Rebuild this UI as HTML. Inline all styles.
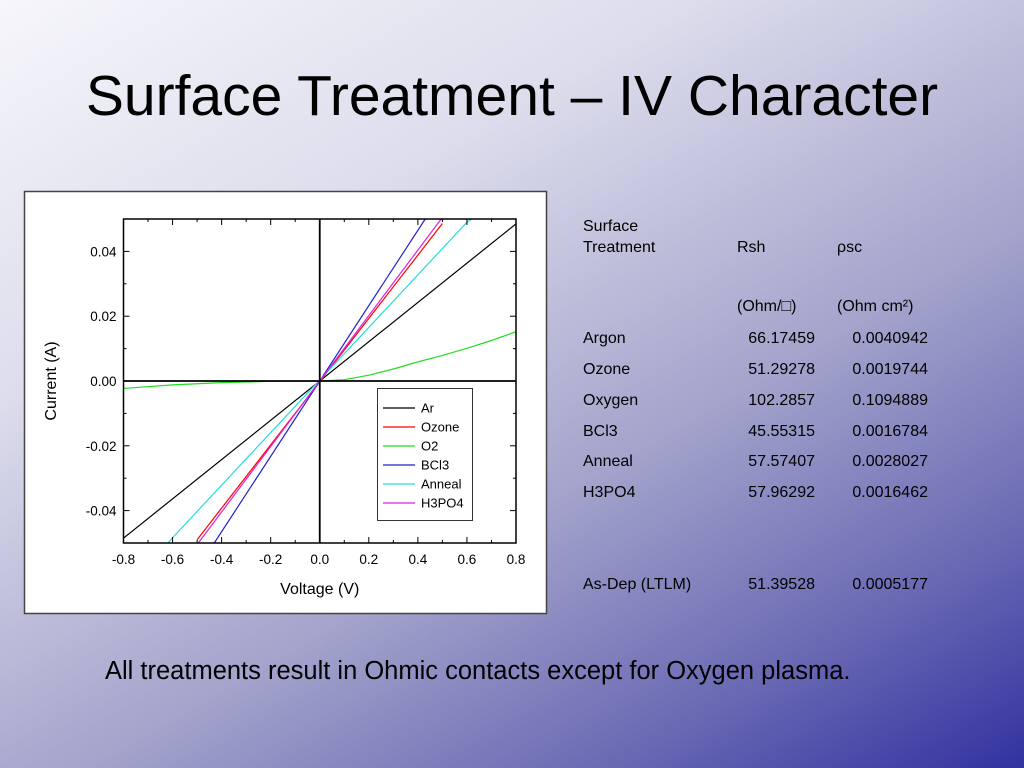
<!DOCTYPE html>
<html><head><meta charset="utf-8">
<style>
body{margin:0;width:1024px;height:768px;overflow:hidden;font-family:"Liberation Sans",sans-serif;
background:linear-gradient(150deg,#f6f6fb 0%,#dcdcec 30%,#a4a4cc 60%,#6a6ab4 82%,#3232a0 100%);position:relative}
.t{position:absolute;font-size:16px;color:#000;white-space:nowrap;line-height:1}
.r{text-align:right;width:120px}
</style></head><body>
<div style="position:absolute;left:0;width:1024px;top:68px;text-align:center;font-size:57px;line-height:1">Surface Treatment – IV Character</div>
<svg style="position:absolute;left:0;top:0" width="1024" height="768">
<rect x="24.5" y="191.5" width="522" height="422" fill="#fff" stroke="#444" stroke-width="1.5"/>
<g id="plot"></g>
</svg>
<div>
<div class="t" style="left:583px;top:219px">Surface</div>
<div class="t" style="left:583px;top:240px">Treatment</div>
<div class="t" style="left:737px;top:240px">Rsh</div>
<div class="t" style="left:837px;top:240px">ρsc</div>
<div class="t" style="left:737px;top:299px">(Ohm/□)</div>
<div class="t" style="left:837px;top:299px">(Ohm cm²)</div>
<div class="t" style="left:583px;top:331px">Argon</div><div class="t r" style="left:695px;top:331px">66.17459</div><div class="t r" style="left:808px;top:331px">0.0040942</div>
<div class="t" style="left:583px;top:362px">Ozone</div><div class="t r" style="left:695px;top:362px">51.29278</div><div class="t r" style="left:808px;top:362px">0.0019744</div>
<div class="t" style="left:583px;top:393px">Oxygen</div><div class="t r" style="left:695px;top:393px">102.2857</div><div class="t r" style="left:808px;top:393px">0.1094889</div>
<div class="t" style="left:583px;top:424px">BCl3</div><div class="t r" style="left:695px;top:424px">45.55315</div><div class="t r" style="left:808px;top:424px">0.0016784</div>
<div class="t" style="left:583px;top:454px">Anneal</div><div class="t r" style="left:695px;top:454px">57.57407</div><div class="t r" style="left:808px;top:454px">0.0028027</div>
<div class="t" style="left:583px;top:485px">H3PO4</div><div class="t r" style="left:695px;top:485px">57.96292</div><div class="t r" style="left:808px;top:485px">0.0016462</div>
<div class="t" style="left:583px;top:577px">As-Dep (LTLM)</div><div class="t r" style="left:695px;top:577px">51.39528</div><div class="t r" style="left:808px;top:577px">0.0005177</div>
</div>
<div style="position:absolute;left:105px;top:659px;font-size:25.5px;line-height:1;white-space:nowrap">All treatments result in Ohmic contacts except for Oxygen plasma.</div>
<script>
const seriesNames=["Ar","Ozone","O2","BCl3","Anneal","H3PO4"];
const seriesColors=["#000","#f00","#2d2","#22c","#2dd","#d2d"];
const arV=[-0.8,0.8], arI=[-0.0485,0.0485];
const ozoneV=[-0.5,0.5], ozoneI=[-0.049,0.0486];
const o2V=[-0.8,-0.6,-0.4,-0.2,0,0.1,0.2,0.3,0.4,0.5,0.6,0.7,0.8];
const o2I=[-0.0023,-0.0012,-0.0005,-0.0001,0,0.0004,0.0018,0.0037,0.0059,0.0079,0.0101,0.0125,0.0152];
const bcl3V=[-0.43,0.43], bcl3I=[-0.05,0.05];
const annealV=[-0.62,0.6,0.62], annealI=[-0.05,0.049,0.05];
const h3po4V=[-0.495,0.495], h3po4I=[-0.05,0.05];
const xTicks=[-0.8,-0.6,-0.4,-0.2,0,0.2,0.4,0.6,0.8];
const xTickLabels=["-0.8","-0.6","-0.4","-0.2","0.0","0.2","0.4","0.6","0.8"];
const yTicks=[-0.04,-0.02,0,0.02,0.04];
const yTickLabels=["-0.04","-0.02","0.00","0.02","0.04"];
const allV=[arV,ozoneV,o2V,bcl3V,annealV,h3po4V], allI=[arI,ozoneI,o2I,bcl3I,annealI,h3po4I];
const L=123.5,R=516,T=219,B=543;
const xs=v=>L+(v+0.8)/1.6*(R-L);
const ys=i=>B-(i+0.05)/0.1*(B-T);
const NS="http://www.w3.org/2000/svg";
const g=document.getElementById('plot');
function mk(tag,at,parent){const e=document.createElementNS(NS,tag);for(const k in at)e.setAttribute(k,at[k]);(parent||g).appendChild(e);return e;}
const defs=mk('defs',{});const cp=mk('clipPath',{id:'cp'},defs);mk('rect',{x:L,y:T,width:R-L,height:B-T},cp);
const sg=mk('g',{'clip-path':'url(#cp)'});
allV.forEach((vs,k)=>{
 const p=mk('polyline',{points:vs.map((v,j)=>xs(v)+','+ys(allI[k][j])).join(' '),fill:'none',stroke:seriesColors[k],'stroke-width':1.2},sg);
 
 
});
const zx=mk('line',{x1:xs(0),x2:xs(0),y1:T,y2:B,stroke:'#000','stroke-width':1.8});

const zy=mk('line',{x1:L,x2:R,y1:ys(0),y2:ys(0),stroke:'#000','stroke-width':1.8});

const fr=mk('rect',{x:L,y:T,width:R-L,height:B-T,fill:'none',stroke:'#000','stroke-width':1.5});

for(let v=-0.8;v<=0.801;v+=0.1){const x=xs(v);const maj=Math.abs(Math.round(v*10))%2==0;const l=maj?6:3;
 mk('line',{x1:x,x2:x,y1:B,y2:B-l,stroke:'#000'});mk('line',{x1:x,x2:x,y1:T,y2:T+l,stroke:'#000'});}
for(let i=-0.05;i<=0.0501;i+=0.01){const y=ys(i);const maj=Math.abs(Math.round(i*100))%2==0;const l=maj?6:3;
 mk('line',{x1:L,x2:L+l,y1:y,y2:y,stroke:'#000'});mk('line',{x1:R,x2:R-l,y1:y,y2:y,stroke:'#000'});}
xTicks.forEach((v,k)=>{const t=mk('text',{x:xs(v),y:B+21,'text-anchor':'middle','font-size':13.5});t.textContent=xTickLabels[k];
 });
yTicks.forEach((v,k)=>{const t=mk('text',{x:L-7,y:ys(v)+5,'text-anchor':'end','font-size':13.5});t.textContent=yTickLabels[k];
 });
const xt=mk('text',{x:xs(0),y:594,'text-anchor':'middle','font-size':16});xt.textContent='Voltage (V)';

const yt=mk('text',{x:56,y:ys(0),'text-anchor':'middle','font-size':16,transform:'rotate(-90 56 '+ys(0)+')'});yt.textContent='Current (A)';

const lg=mk('g',{});
mk('rect',{x:377.5,y:388.5,width:95,height:132,fill:'#fff',stroke:'#333'},lg);
seriesNames.forEach((n,k)=>{const y=408+k*19;
 const e=mk('g',{},lg);
 mk('line',{x1:383,x2:415,y1:y,y2:y,stroke:seriesColors[k],'stroke-width':1.2},e);
 const t=mk('text',{x:421,y:y+4.5,'font-size':13},e);t.textContent=n;});
</script>
</body></html>
